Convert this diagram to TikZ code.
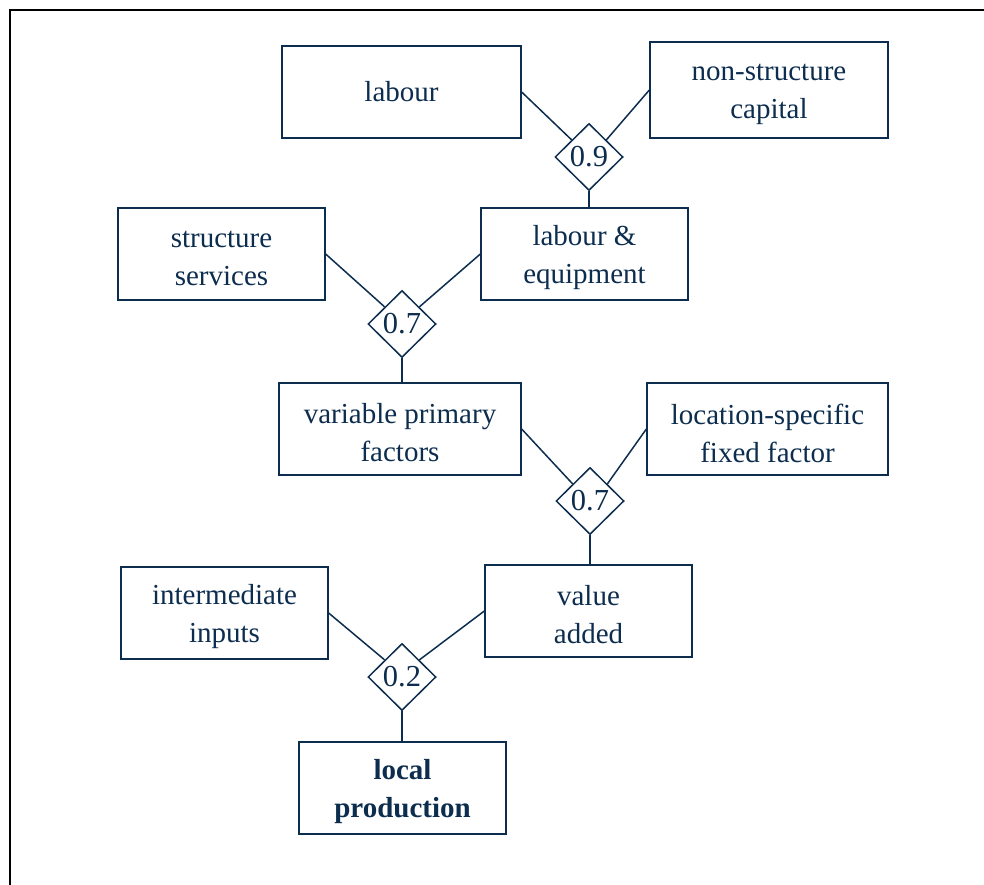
\documentclass[tikz,border=0pt]{standalone}
\usepackage{fontspec}
\setmainfont{Liberation Serif}
\usetikzlibrary{shapes.geometric}
\definecolor{navy}{RGB}{12,45,78}
\begin{document}
\begin{tikzpicture}[x=1pt,y=-1pt,
  box/.style={draw=navy,line width=1.3pt,inner sep=0pt,minimum width=207pt,minimum height=92pt},
  txt/.style={text=navy,align=center,inner sep=0pt,font=\fontsize{29}{38}\selectfont},
  dia/.style={draw=navy,line width=1.5pt,text=navy,shape=diamond,inner sep=0pt,
    minimum width=68pt,minimum height=67pt,font=\fontsize{30.5}{34}\selectfont},
  link/.style={draw=navy,line width=1.5pt}]
\useasboundingbox (0,0) rectangle (984,885);
\draw[line width=2pt] (10,885) -- (10,10) -- (984,10);
% boxes
\node[box,minimum width=239pt] (lab) at (401.5,92) {};
\node[txt] (lab-t) at (lab.center) {labour};
\node[box,minimum width=238pt,minimum height=96pt] (nsc) at (769,90) {};
\node[txt] (nsc-t) at ([yshift=-4pt]nsc.center) {non-structure\\capital};
\node[dia] (d1) at (589,157) {0.9};
\node[box] (le) at (584.5,254) {};
\node[txt] (le-t) at ([yshift=-4pt]le.center) {labour \&\\equipment};
\node[box] (ss) at (221.5,254) {};
\node[txt] (ss-t) at ([yshift=-4pt]ss.center) {structure\\services};
\node[dia] (d2) at (402,324) {0.7};
\node[box,minimum width=242pt] (vpf) at (400,429) {};
\node[txt] (vpf-t) at ([yshift=-4pt]vpf.center) {variable primary\\factors};
\node[box,minimum width=241pt] (lsf) at (767.5,429) {};
\node[txt] (lsf-t) at ([yshift=-4pt]lsf.center) {location-specific\\fixed factor};
\node[dia] (d3) at (590,501) {0.7};
\node[box] (va) at (588.5,611) {};
\node[txt] (va-t) at ([yshift=-4pt]va.center) {value\\added};
\node[box] (ii) at (224.5,613) {};
\node[txt] (ii-t) at ([yshift=-4pt]ii.center) {intermediate\\inputs};
\node[dia] (d4) at (402,677) {0.2};
\node[box] (lp) at (402.5,788) {};
\node[txt,font=\fontsize{29}{38}\selectfont\bfseries] (lp-t) at ([yshift=-4pt]lp.center) {local\\production};
% connectors
\draw[link] (lab.east) -- (d1.north west);
\draw[link] (nsc.west) -- (d1.north east);
\draw[link] (d1.south) -- (d1.south |- le.north);
\draw[link] (ss.east) -- (d2.north west);
\draw[link] (le.west) -- (d2.north east);
\draw[link] (d2.south) -- (d2.south |- vpf.north);
\draw[link] (vpf.east) -- (d3.north west);
\draw[link] (lsf.west) -- (d3.north east);
\draw[link] (d3.south) -- (d3.south |- va.north);
\draw[link] (ii.east) -- (d4.north west);
\draw[link] (va.west) -- (d4.north east);
\draw[link] (d4.south) -- (d4.south |- lp.north);
\end{tikzpicture}
\end{document}
